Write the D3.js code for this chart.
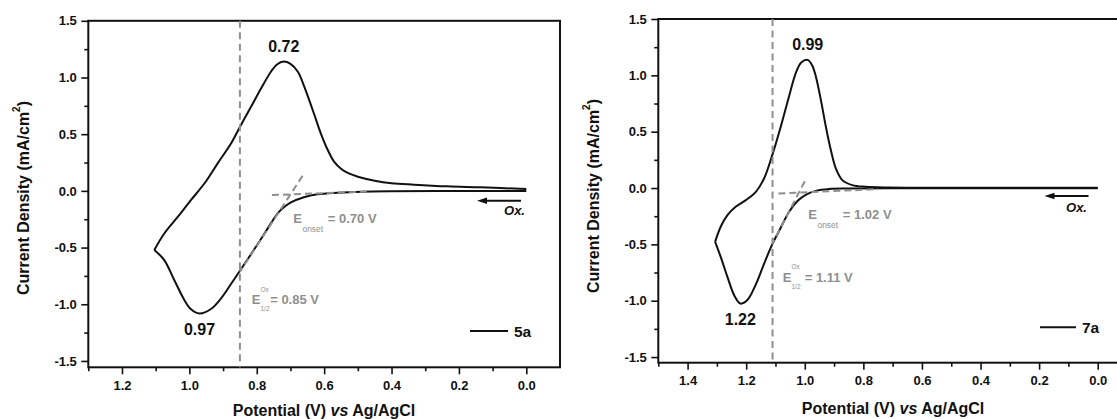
<!DOCTYPE html>
<html>
<head>
<meta charset="utf-8">
<script src="https://cdn.jsdelivr.net/npm/d3@7"></script>
<style>
  body { margin: 0; background: #fff; }
  svg { display: block; }
  text { font-family: "Liberation Sans", Arial, Helvetica, sans-serif; }
</style>
</head>
<body>
<svg id="chart" width="1117" height="419"></svg>
<script>
// Cyclic voltammograms (current density vs potential) of compounds 5a and 7a

const compounds = ["5a", "7a"];

// 5a — forward sweep from 0 V to the switching potential
const fwd5aE = [0.00, 0.20, 0.40, 0.49, 0.56, 0.62, 0.66, 0.70, 0.723, 0.738, 0.768, 0.797, 0.827, 0.847, 0.877, 0.906, 0.936, 0.97, 0.995, 1.015, 1.045, 1.075, 1.104];
const fwd5aJ = [0.000, -0.001, -0.003, -0.007, -0.016, -0.030, -0.056, -0.103, -0.153, -0.198, -0.333, -0.468, -0.603, -0.691, -0.824, -0.948, -1.042, -1.082, -1.045, -0.962, -0.786, -0.609, -0.521];
// 5a — reverse sweep back to 0 V
const rev5aE = [1.104, 1.074, 1.034, 0.995, 0.955, 0.916, 0.876, 0.847, 0.817, 0.787, 0.758, 0.74, 0.72, 0.70, 0.678, 0.659, 0.634, 0.610, 0.590, 0.570, 0.550, 0.530, 0.50, 0.45, 0.40, 0.333, 0.234, 0.135, 0.00];
const rev5aJ = [-0.521, -0.374, -0.228, -0.080, 0.067, 0.243, 0.420, 0.581, 0.742, 0.905, 1.051, 1.115, 1.140, 1.120, 1.051, 0.919, 0.713, 0.508, 0.365, 0.255, 0.195, 0.158, 0.125, 0.090, 0.068, 0.055, 0.040, 0.031, 0.016];

// 7a — forward sweep
const fwd7aE = [0.00, 0.40, 0.70, 0.85, 0.917, 0.962, 0.997, 1.025, 1.054, 1.082, 1.111, 1.139, 1.167, 1.196, 1.22, 1.241, 1.264, 1.287, 1.306];
const fwd7aJ = [-0.001, -0.002, -0.003, -0.004, -0.008, -0.025, -0.060, -0.115, -0.212, -0.352, -0.500, -0.672, -0.855, -0.994, -1.025, -0.951, -0.789, -0.611, -0.478];
// 7a — reverse sweep
const rev7aE = [1.306, 1.287, 1.264, 1.236, 1.201, 1.167, 1.139, 1.111, 1.082, 1.054, 1.031, 1.012, 0.99, 0.975, 0.962, 0.945, 0.928, 0.911, 0.894, 0.872, 0.838, 0.792, 0.712, 0.50, 0.00];
const rev7aJ = [-0.478, -0.344, -0.241, -0.167, -0.107, -0.034, 0.085, 0.292, 0.544, 0.810, 1.018, 1.115, 1.137, 1.090, 0.988, 0.781, 0.544, 0.337, 0.174, 0.070, 0.026, 0.011, 0.005, 0.003, 0.002];

// Peak potentials (V), per compound
const oxPeakE  = [0.97, 1.22];   // lower-branch extremum
const redPeakE = [0.72, 0.99];   // upper-branch extremum

// Onset and half-wave potentials (V), per compound
const onsetE    = [0.70, 1.02];
const halfWaveE = [0.85, 1.11];

// Tangent construction used to locate the onset
const baselineE    = [[0.755, 0.47], [1.09, 0.75]];
const baselineJ    = [[-0.037, -0.005], [-0.048, -0.010]];
const risingSlope  = [-4.55, -5.0];
const risingSpanE  = [[0.664, 0.85], [1.00, 1.11]];

// Tick values
const yTicks      = [-1.5, -1.0, -0.5, 0.0, 0.5, 1.0, 1.5];
const yMinorTicks = [-1.25, -0.75, -0.25, 0.25, 0.75, 1.25];
const xTicks5a    = [0.0, 0.2, 0.4, 0.6, 0.8, 1.0, 1.2];
const xMinor5a    = [0.1, 0.3, 0.5, 0.7, 0.9, 1.1, 1.3];
const xTicks7a    = [0.0, 0.2, 0.4, 0.6, 0.8, 1.0, 1.2, 1.4];
const xMinor7a    = [0.1, 0.3, 0.5, 0.7, 0.9, 1.1, 1.3, 1.5];

const curves = [
  { fwdE: fwd5aE, fwdJ: fwd5aJ, revE: rev5aE, revJ: rev5aJ, xT: xTicks5a, xM: xMinor5a },
  { fwdE: fwd7aE, fwdJ: fwd7aJ, revE: rev7aE, revJ: rev7aJ, xT: xTicks7a, xM: xMinor7a }
];

// Panel layout (pixels)
const layouts = [
  { left: 88.3, right: 560, top: 20.8, bottom: 367.3, eDom: [1.3, -0.1], jDom: [-1.556, 1.5],
    yTitle: [23, 198], xTitle: [324, 416], legend: [470, 508, 331],
    arrow: [477, 521, 200.7], oxText: [525, 215.3],
    onsetLbl: [293.3, 223.3], halfLbl: [251.7, 304.3], halfGap: 18.5 },
  { left: 658.3, right: 1127, top: 19, bottom: 362.7, eDom: [1.5, -0.1], jDom: [-1.55, 1.5],
    yTitle: [592.7, 196], xTitle: [893, 414], legend: [1040, 1076, 327.3],
    arrow: [1044.5, 1088.5, 196], oxText: [1087, 211.7],
    onsetLbl: [808.3, 219.3], halfLbl: [782.7, 281.7], halfGap: 22 }
];

const INK = "#111";
const GREY = "#8f8f8f";
const fmt = d => d.toFixed(1);

const svg = d3.select("#chart");

compounds.forEach((name, i) => {
  const L = layouts[i], C = curves[i];
  const x = d3.scaleLinear().domain(L.eDom).range([L.left, L.right]);
  const y = d3.scaleLinear().domain(L.jDom).range([L.bottom, L.top]);
  const g = svg.append("g");

  // axes: major + minor ticks, outward
  const axX = g.append("g").attr("transform", `translate(0,${L.bottom})`)
    .call(d3.axisBottom(x).tickValues(C.xT).tickFormat(fmt).tickSize(7).tickPadding(6));
  const axXm = g.append("g").attr("transform", `translate(0,${L.bottom})`)
    .call(d3.axisBottom(x).tickValues(C.xM).tickFormat("").tickSize(4));
  const axY = g.append("g").attr("transform", `translate(${L.left},0)`)
    .call(d3.axisLeft(y).tickValues(yTicks).tickFormat(fmt).tickSize(7).tickPadding(4.5));
  const axYm = g.append("g").attr("transform", `translate(${L.left},0)`)
    .call(d3.axisLeft(y).tickValues(yMinorTicks).tickFormat("").tickSize(4));
  [axX, axXm, axY, axYm].forEach(a => {
    a.select(".domain").remove();
    a.selectAll("line").attr("stroke", INK).attr("stroke-width", 1.6);
    a.selectAll("text").attr("fill", INK).attr("font-size", 13).attr("font-weight", "bold")
      .attr("font-family", '"Liberation Sans", Arial, sans-serif');
  });

  // frame
  g.append("rect").attr("x", L.left).attr("y", L.top)
    .attr("width", L.right - L.left).attr("height", L.bottom - L.top)
    .attr("fill", "none").attr("stroke", INK).attr("stroke-width", 2);

  // voltammogram: forward and reverse sweeps meet at the switching potential
  const line = d3.line().x(d => x(d[0])).y(d => y(d[1])).curve(d3.curveCatmullRom.alpha(0.5));
  const fwd = C.fwdE.map((e, k) => [e, C.fwdJ[k]]);
  const rev = C.revE.map((e, k) => [e, C.revJ[k]]);
  [fwd, rev].forEach(pts => {
    g.append("path").attr("d", line(pts)).attr("fill", "none")
      .attr("stroke", INK).attr("stroke-width", 2).attr("stroke-linejoin", "round");
  });

  // half-wave potential marker
  g.append("line").attr("x1", x(halfWaveE[i])).attr("x2", x(halfWaveE[i]))
    .attr("y1", L.top).attr("y2", L.bottom)
    .attr("stroke", GREY).attr("stroke-width", 2).attr("stroke-dasharray", "7,4.5");

  // onset tangents
  const bE = baselineE[i], bJ = baselineJ[i];
  g.append("line").attr("x1", x(bE[0])).attr("y1", y(bJ[0])).attr("x2", x(bE[1])).attr("y2", y(bJ[1]))
    .attr("stroke", GREY).attr("stroke-width", 2).attr("stroke-dasharray", "7,4");
  const jOn = bJ[0] + (onsetE[i] - bE[0]) * (bJ[1] - bJ[0]) / (bE[1] - bE[0]);
  const rs = risingSpanE[i];
  const jAt = e => jOn + risingSlope[i] * (e - onsetE[i]);
  g.append("line").attr("x1", x(rs[0])).attr("y1", y(jAt(rs[0]))).attr("x2", x(rs[1])).attr("y2", y(jAt(rs[1])))
    .attr("stroke", GREY).attr("stroke-width", 2).attr("stroke-dasharray", "7,4");

  // peak potential labels
  const top = rev.reduce((a, b) => (b[1] > a[1] ? b : a));
  const bot = fwd.reduce((a, b) => (b[1] < a[1] ? b : a));
  g.append("text").attr("x", x(redPeakE[i])).attr("y", y(top[1]) - 10)
    .attr("text-anchor", "middle").attr("font-size", 16).attr("font-weight", "bold").attr("fill", INK)
    .text(redPeakE[i].toFixed(2));
  g.append("text").attr("x", x(oxPeakE[i])).attr("y", y(bot[1]) + 21)
    .attr("text-anchor", "middle").attr("font-size", 16).attr("font-weight", "bold").attr("fill", INK)
    .text(oxPeakE[i].toFixed(2));

  // E_onset label
  const [ox0, oy0] = L.onsetLbl;
  g.append("text").attr("x", ox0).attr("y", oy0).attr("font-size", 13).attr("font-weight", "bold")
    .attr("fill", GREY).text("E");
  g.append("text").attr("x", ox0 + 9.2).attr("y", oy0 + 8.5).attr("font-size", 8.4)
    .attr("fill", GREY).text("onset");
  g.append("text").attr("x", ox0 + 34.5).attr("y", oy0).attr("font-size", 13).attr("font-weight", "bold")
    .attr("fill", GREY).text(`= ${onsetE[i].toFixed(2)} V`);

  // E_1/2 label
  const [hx0, hy0] = L.halfLbl;
  g.append("text").attr("x", hx0).attr("y", hy0).attr("font-size", 13).attr("font-weight", "bold")
    .attr("fill", GREY).text("E");
  g.append("text").attr("x", hx0 + 8.8).attr("y", hy0 - 12.5).attr("font-size", 6.5)
    .attr("fill", GREY).text("Ox");
  g.append("text").attr("x", hx0 + 8.8).attr("y", hy0 + 7).attr("font-size", 6.5)
    .attr("fill", GREY).text("1/2");
  g.append("text").attr("x", hx0 + L.halfGap).attr("y", hy0).attr("font-size", 13).attr("font-weight", "bold")
    .attr("fill", GREY).text(`= ${halfWaveE[i].toFixed(2)} V`);

  // sweep direction arrow
  const [ax0, ax1, ay] = L.arrow;
  g.append("line").attr("x1", ax0 + 8).attr("x2", ax1).attr("y1", ay).attr("y2", ay)
    .attr("stroke", INK).attr("stroke-width", 2);
  g.append("path").attr("d", `M${ax0},${ay} L${ax0 + 10},${ay - 3.2} L${ax0 + 10},${ay + 3.2} Z`).attr("fill", INK);
  g.append("text").attr("x", L.oxText[0]).attr("y", L.oxText[1]).attr("text-anchor", "end")
    .attr("font-size", 13).attr("font-weight", "bold").attr("font-style", "italic").attr("fill", INK)
    .text("Ox.");

  // legend
  const [lx0, lx1, ly] = L.legend;
  g.append("line").attr("x1", lx0).attr("x2", lx1).attr("y1", ly).attr("y2", ly)
    .attr("stroke", INK).attr("stroke-width", 2);
  g.append("text").attr("x", lx1 + 6).attr("y", ly + 5.5).attr("font-size", 15.5).attr("font-weight", "bold")
    .attr("fill", INK).text(name);

  // axis titles
  const yt = g.append("text")
    .attr("transform", `translate(${L.yTitle[0]},${L.yTitle[1]}) rotate(-90)`)
    .attr("text-anchor", "middle").attr("dominant-baseline", "central")
    .attr("font-size", 16).attr("font-weight", "bold").attr("fill", INK);
  yt.append("tspan").text("Current Density (mA/cm");
  yt.append("tspan").attr("font-size", 10).attr("dy", -7).text("2");
  yt.append("tspan").attr("dy", 7).text(")");

  const xt = g.append("text").attr("x", L.xTitle[0]).attr("y", L.xTitle[1])
    .attr("text-anchor", "middle").attr("font-size", 16).attr("font-weight", "bold").attr("fill", INK);
  xt.append("tspan").text("Potential (V) ");
  xt.append("tspan").attr("font-style", "italic").text("vs");
  xt.append("tspan").text(" Ag/AgCl");
});
</script>
</body>
</html>
